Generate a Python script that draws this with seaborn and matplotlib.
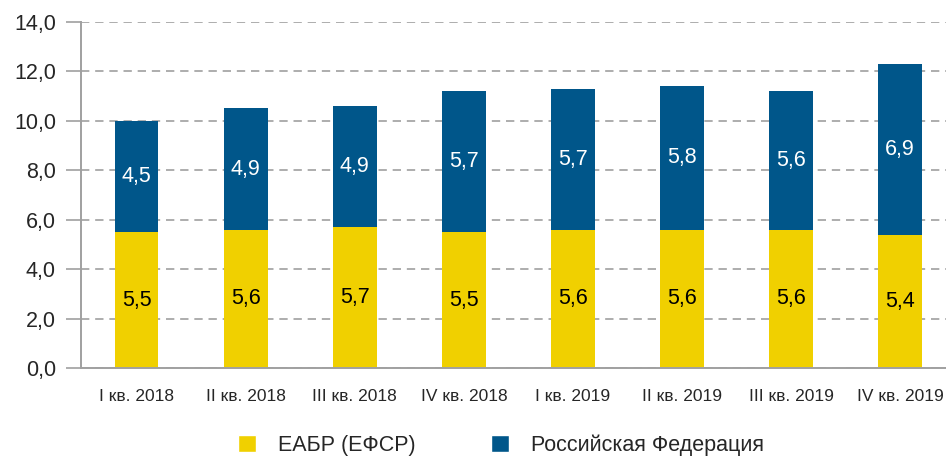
import numpy as np
import pandas as pd
import matplotlib
matplotlib.use('Agg')
import matplotlib.pyplot as plt
import seaborn as sns
from matplotlib.patches import Patch

# Data
quarters = ['I кв. 2018', 'II кв. 2018', 'III кв. 2018', 'IV кв. 2018',
            'I кв. 2019', 'II кв. 2019', 'III кв. 2019', 'IV кв. 2019']
eabr = [5.5, 5.6, 5.7, 5.5, 5.6, 5.6, 5.6, 5.4]
russia = [4.5, 4.9, 4.9, 5.7, 5.7, 5.8, 5.6, 6.9]
y_ticks = [0, 2, 4, 6, 8, 10, 12, 14]
series_names = ['ЕАБР (ЕФСР)', 'Российская Федерация']

yellow = '#F0D000'
blue = '#00568A'
grey = '#A0A0A0'

sns.set_theme(style='white')
plt.rcParams['font.family'] = ['Liberation Sans', 'DejaVu Sans']

df = pd.DataFrame({'quarter': quarters, 'eabr': eabr, 'russia': russia})
df['total'] = df['eabr'] + df['russia']

fig = plt.figure(figsize=(9.46, 4.57), dpi=100)
ax = fig.add_axes([0.0856, 0.1947, 0.9144, 0.7572])

# stacked bars: full height in blue, yellow part drawn over it
sns.barplot(data=df, x='quarter', y='total', color=blue, width=0.4,
            saturation=1, linewidth=0, ax=ax, zorder=3)
sns.barplot(data=df, x='quarter', y='eabr', color=yellow, width=0.4,
            saturation=1, linewidth=0, ax=ax, zorder=4)

for i, row in df.iterrows():
    ax.text(i, row['eabr'] / 2, f"{row['eabr']:.1f}".replace('.', ','),
            ha='center', va='center', fontsize=15.5, color='black', zorder=5)
    ax.text(i, row['eabr'] + row['russia'] / 2,
            f"{row['russia']:.1f}".replace('.', ','),
            ha='center', va='center', fontsize=15.5, color='white', zorder=5)

ax.set_ylim(0, 14)
ax.set_xlim(-0.51, 7.42)
ax.set_yticks(y_ticks)
ax.set_yticklabels([f'{v:.1f}'.replace('.', ',') for v in y_ticks], fontsize=15.5)
ax.set_xticks(range(len(quarters)))
ax.set_xticklabels(quarters, fontsize=12.5)
ax.set_xlabel('')
ax.set_ylabel('')

ax.yaxis.grid(True, linestyle=(0, (5, 3.5)), color=grey, linewidth=1.2, zorder=0)
ax.set_axisbelow(True)
ax.tick_params(axis='y', length=11, width=1.2, color=grey, pad=7, left=True)
ax.tick_params(axis='x', length=0, pad=15)

for side in ['top', 'right']:
    ax.spines[side].set_visible(False)
for side in ['left', 'bottom']:
    ax.spines[side].set_color(grey)
    ax.spines[side].set_linewidth(1.4)
    ax.spines[side].set_zorder(6)

handles = [Patch(facecolor=yellow), Patch(facecolor=blue)]
fig.legend(handles, series_names, loc='center left',
           bbox_to_anchor=(238 / 946, 12 / 457),
           ncol=2, frameon=False, fontsize=15.5, handlelength=0.85, handleheight=0.85,
           columnspacing=3.5, handletextpad=1.0, borderpad=0, borderaxespad=0)

plt.savefig('out.png', dpi=100, facecolor='white')
